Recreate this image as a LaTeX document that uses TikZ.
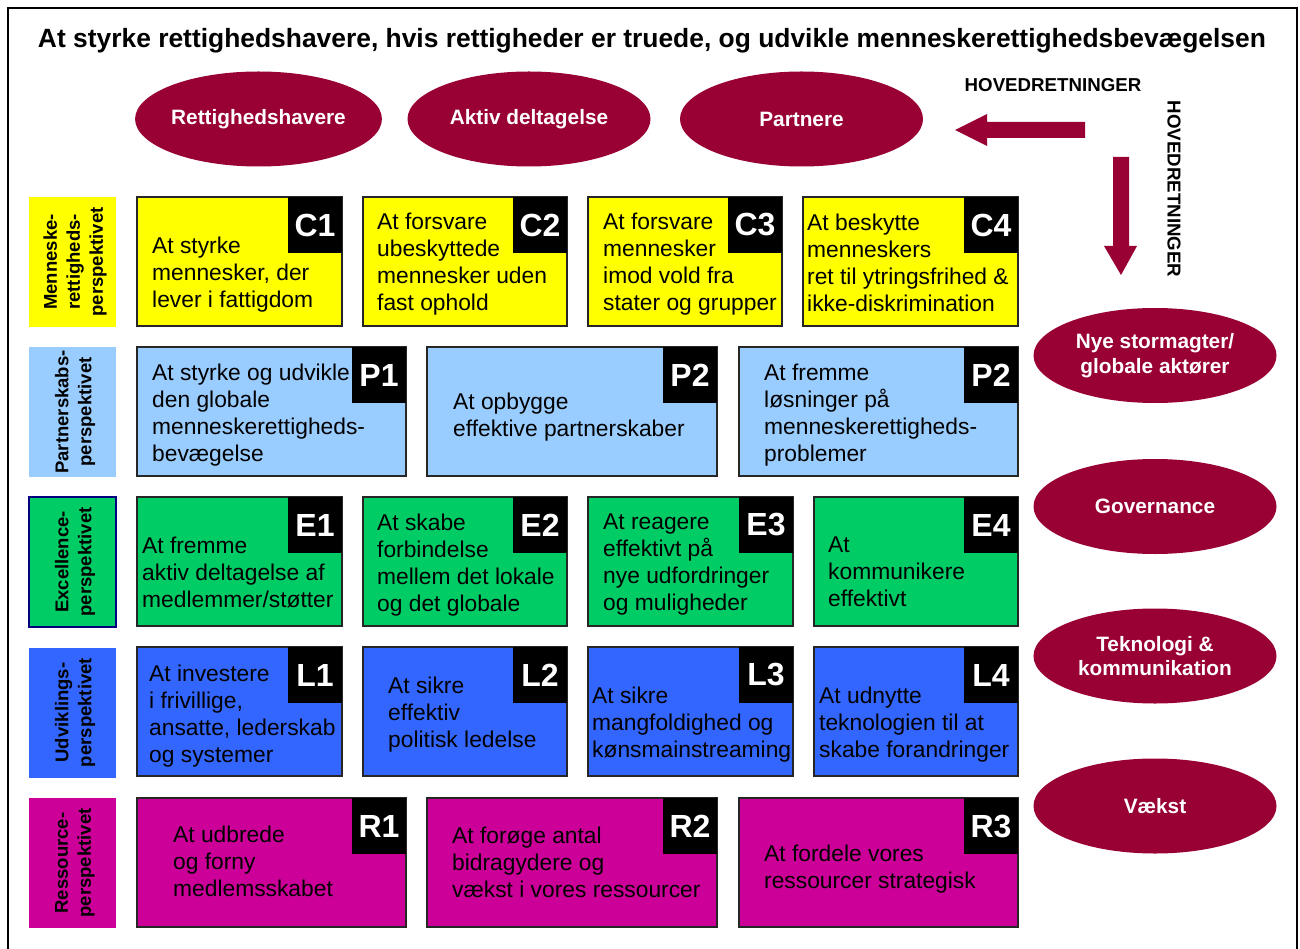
\documentclass[tikz,border=0pt]{standalone}
\usepackage{fontspec}
\setmainfont{Liberation Sans}
\usetikzlibrary{shapes.geometric}
\definecolor{cyel}{HTML}{FFFF00}
\definecolor{cltb}{HTML}{99CCFF}
\definecolor{cgrn}{HTML}{00CC66}
\definecolor{cblu}{HTML}{3366FF}
\definecolor{cmag}{HTML}{CC0099}
\definecolor{crim}{HTML}{990033}
\definecolor{cnavy}{HTML}{000080}
\tikzset{
 cellbox/.style={draw=black!85, line width=1.4pt, rectangle, inner sep=0pt, outer sep=0pt, anchor=north west, minimum height=129pt},
 tagbox/.style={fill=black, text=white, inner sep=0pt, outer sep=0pt, minimum width=54pt, minimum height=56pt, anchor=north east, font=\bfseries\fontsize{32}{32}\selectfont},
 celltext/.style={anchor=north west, align=left, inner sep=0pt, font=\fontsize{22.8}{27}\selectfont},
 rowlabel/.style={rectangle, inner sep=0pt, outer sep=0pt, minimum width=87pt, minimum height=130pt},
 rowtext/.style={rotate=90, align=center, inner sep=0pt, font=\bfseries\fontsize{18.5}{23}\selectfont},
 ellnode/.style={ellipse, fill=crim, text=white, inner sep=0pt, minimum width=243pt, minimum height=95pt, align=center, font=\bfseries\fontsize{20.8}{24.5}\selectfont},
 headtext/.style={inner sep=0pt, font=\bfseries\fontsize{18.7}{18.7}\selectfont},
}
\newcommand\cell[9]{%
 \node[cellbox, fill=#5, minimum width={#4-#2}] (#1) at (#2,#3) {};
 \node[tagbox] (#1tag) at (#1.north east) {#6};
 \node[celltext] (#1txt) at (#7,#8) {#9};
}
\begin{document}
\begin{tikzpicture}[x=1pt,y=-1pt]
\useasboundingbox (0,0) rectangle (1300,949);
\fill[white] (0,0) rectangle (1300,949);
\draw[line width=2pt] (8,960) -- (8,8) -- (1297,8) -- (1297,960);

\node[anchor=base, inner sep=0pt, font=\bfseries\fontsize{26.4}{30}\selectfont] (title) at (652,48)
 {At styrke rettighedshavere, hvis rettigheder er truede, og udvikle menneskerettighedsbevægelsen};

% top ellipses
\node[ellnode] (rh) at (258.5,119) {Rettighedshavere};
\node[ellnode] (ad) at (529,119) {Aktiv deltagelse};
\node[ellnode] (pa) at (801.5,119) {Partnere};

% right ellipses
\node[ellnode] (ny) at (1155,355.5) {Nye stormagter/\\globale aktører};
\node[ellnode] (go) at (1155,506.5) {Governance};
\node[ellnode] (te) at (1155,656) {Teknologi \&\\kommunikation};
\node[ellnode] (va) at (1155,806) {Vækst};

% arrows
\fill[crim] (1085,122) -- (987,122) -- (987,114) -- (955,130) -- (987,146) -- (987,138) -- (1085,138) -- cycle;
\fill[crim] (1113,157) -- (1113,246) -- (1104,246) -- (1121,275) -- (1137,246) -- (1129,246) -- (1129,157) -- cycle;
\node[headtext, anchor=base] (hh) at (1053,92) {HOVEDRETNINGER};
\node[headtext, rotate=-90] (hv) at (1174,189) {HOVEDRETNINGER};

% row labels
\node[rowlabel, fill=cyel] (lab1) at (72.5,262) {};
\node[rowtext] (lab1t) at (75,262) {Menneske-\\rettigheds-\\perspektivet};
\node[rowlabel, fill=cltb] (lab2) at (72.5,412) {};
\node[rowtext] (lab2t) at (75,412) {Partnerskabs-\\perspektivet};
\node[rowlabel, fill=cgrn, draw=cnavy, line width=1.5pt] (lab3) at (72.5,562) {};
\node[rowtext] (lab3t) at (75,562) {Excellence-\\perspektivet};
\node[rowlabel, fill=cblu] (lab4) at (72.5,712.5) {};
\node[rowtext] (lab4t) at (75,712.5) {Udviklings-\\perspektivet};
\node[rowlabel, fill=cmag] (lab5) at (72.5,863) {};
\node[rowtext] (lab5t) at (75,863) {Ressource-\\perspektivet};

% cells
\cell{c1}{137}{197}{342}{cyel}{C1}{152}{237}{At styrke\\mennesker, der\\lever i fattigdom}
\cell{c2}{363}{197}{567}{cyel}{C2}{377}{213}{At forsvare\\ubeskyttede\\mennesker uden\\fast ophold}
\cell{c3}{588}{197}{782}{cyel}{C3}{603}{213}{At forsvare\\mennesker\\imod vold fra\\stater og grupper}
\cell{c4}{803}{197}{1018}{cyel}{C4}{807}{214}{At beskytte\\menneskers\\ret til ytringsfrihed \&\\ikke-diskrimination}

\cell{p1}{137}{347}{406}{cltb}{P1}{152}{364}{At styrke og udvikle\\den globale\\menneskerettigheds-\\bevægelse}
\cell{p2}{427}{347}{717}{cltb}{P2}{453}{393}{At opbygge\\effektive partnerskaber}
\cell{p3}{739}{347}{1018}{cltb}{P2}{764}{364}{At fremme\\løsninger på\\menneskerettigheds-\\problemer}

\cell{e1}{137}{497}{342}{cgrn}{E1}{142}{537}{At fremme\\aktiv deltagelse af\\medlemmer/støtter}
\cell{e2}{363}{497}{567}{cgrn}{E2}{377}{514}{At skabe\\forbindelse\\mellem det lokale\\og det globale}
\cell{e3}{588}{497}{793}{cgrn}{E3}{603}{514}{At reagere\\effektivt på\\nye udfordringer\\og muligheder}
\cell{e4}{814}{497}{1018}{cgrn}{E4}{828}{537}{At\\kommunikere\\effektivt}

\cell{l1}{137}{647}{342}{cblu}{L1}{149}{665}{At investere\\i frivillige,\\ansatte, lederskab\\og systemer}
\cell{l2}{363}{647}{567}{cblu}{L2}{388}{677}{At sikre\\effektiv\\politisk ledelse}
\cell{l3}{588}{647}{793}{cblu}{L3}{592}{687}{At sikre\\mangfoldighed og\\kønsmainstreaming}
\cell{l4}{814}{647}{1018}{cblu}{L4}{819}{687}{At udnytte\\teknologien til at\\skabe forandringer}

\cell{r1}{137}{798}{406}{cmag}{R1}{173}{826}{At udbrede\\og forny\\medlemsskabet}
\cell{r2}{427}{798}{717}{cmag}{R2}{452}{827}{At forøge antal\\bidragydere og\\vækst i vores ressourcer}
\cell{r3}{739}{798}{1018}{cmag}{R3}{764}{845}{At fordele vores\\ressourcer strategisk}
\end{tikzpicture}
\end{document}
